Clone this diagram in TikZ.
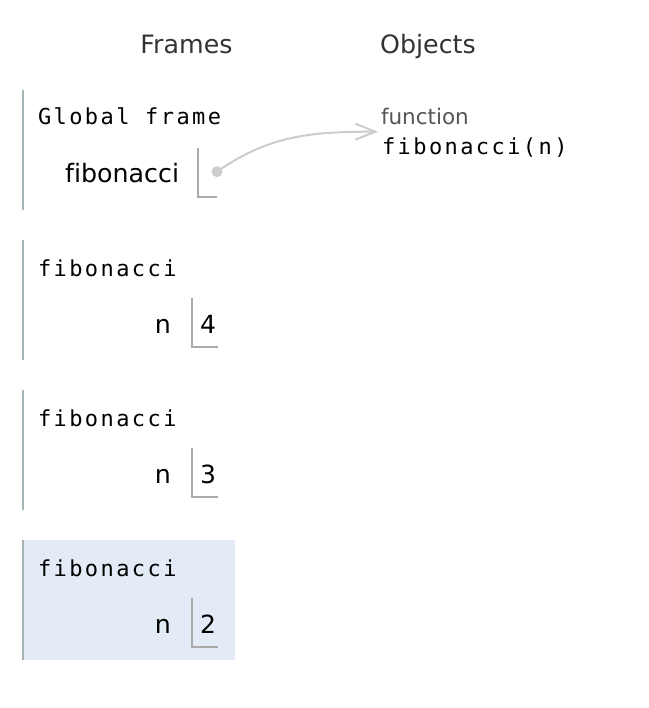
\documentclass[tikz,border=0pt]{standalone}
\usepackage{fontspec}
\setmainfont{DejaVu Sans}[Ligatures=NoCommon]
\newfontfamily\codefont[LetterSpace=11]{DejaVu Sans Mono}
\usetikzlibrary{arrows.meta}
\definecolor{bargray}{HTML}{A6B3B6}
\definecolor{boxgray}{HTML}{AAAAAA}
\definecolor{refgray}{HTML}{CCCCCC}
\definecolor{typegray}{HTML}{555555}
\definecolor{headgray}{HTML}{333333}
\definecolor{hilite}{HTML}{E2EBF6}
\begin{document}
\begin{tikzpicture}[x=1pt,y=-1pt,
    every node/.style={inner sep=0pt,outer sep=0pt},
    head/.style={anchor=base,text=headgray,font=\fontsize{25.3}{29}\selectfont},
    code/.style={anchor=base west,font=\codefont\fontsize{22}{26}\selectfont},
    varname/.style={anchor=base east,font=\fontsize{25.3}{29}\selectfont},
    varval/.style={anchor=base west,font=\fontsize{25}{29}\selectfont},
    typelabel/.style={anchor=base west,text=typegray,font=\fontsize{21.5}{25}\selectfont},
    framebar/.style={draw=bargray,line width=2pt},
    valbox/.style={draw=boxgray,line width=2pt},
    refdot/.style={circle,fill=refgray,minimum size=11pt},
    refarrow/.style={draw=refgray,line width=2pt,-{Straight Barb[length=20pt,width=16pt,line width=2pt]}}]
    \useasboundingbox (0,0) rectangle (648,708);

    \node[head] (frameshead) at (186.5,54) {Frames};
    \node[head] (objectshead) at (428,54) {Objects};

    % global frame
    \draw[framebar] (23,90) -- (23,210);
    \node[code] (globaltitle) at (38,125) {Global frame};
    \node[varname] (globalvar) at (179,182.7) {fibonacci};
    \draw[valbox] (198.3,148) |- (216.7,196.7);
    \node[refdot] (globalref) at (217,171.7) {};

    % function object
    \node[typelabel] (functype) at (381,125) {function};
    \node[code] (funcval) at (382,155) {fibonacci(n)};
    \coordinate (funcin) at (378,131.7);
    \draw[refarrow] (globalref.center) to[out=35,in=180] (funcin);

    % fibonacci(4)
    \draw[framebar] (23,240) -- (23,360);
    \node[code] (fibfourtitle) at (38,276) {fibonacci};
    \node[varname] (fibfourvar) at (171,333) {n};
    \draw[valbox] (191.7,298) |- (218,346.7);
    \node[varval] (fibfourval) at (200,333) {4};

    % fibonacci(3)
    \draw[framebar] (23,390) -- (23,510);
    \node[code] (fibthreetitle) at (38,426) {fibonacci};
    \node[varname] (fibthreevar) at (171,483) {n};
    \draw[valbox] (191.7,448) |- (218,496.7);
    \node[varval] (fibthreeval) at (200,483) {3};

    % fibonacci(2), current frame
    \fill[hilite] (22,540) rectangle (235,660);
    \draw[framebar] (23,540) -- (23,660);
    \node[code] (fibtwotitle) at (38,576) {fibonacci};
    \node[varname] (fibtwovar) at (171,633) {n};
    \draw[valbox] (191.7,598) |- (218,646.7);
    \node[varval] (fibtwoval) at (200,633) {2};
\end{tikzpicture}
\end{document}
